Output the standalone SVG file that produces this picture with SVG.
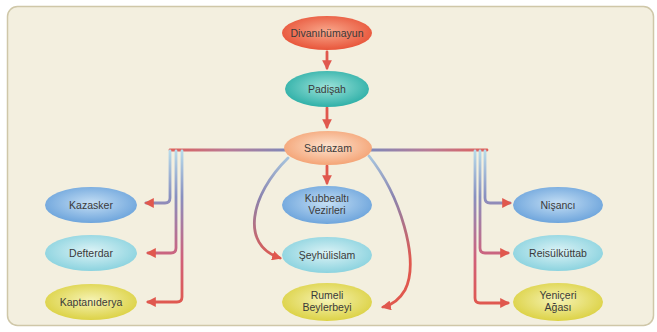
<svg xmlns="http://www.w3.org/2000/svg" width="657" height="332" viewBox="0 0 657 332">
<defs>
<radialGradient id="gRed" cx="50%" cy="45%" r="55%"><stop offset="0" stop-color="#f9a88c"/><stop offset="1" stop-color="#e8553a"/></radialGradient>
<radialGradient id="gTeal" cx="50%" cy="45%" r="55%"><stop offset="0" stop-color="#9de3da"/><stop offset="1" stop-color="#2fb0a8"/></radialGradient>
<radialGradient id="gPeach" cx="50%" cy="45%" r="55%"><stop offset="0" stop-color="#fde3cf"/><stop offset="1" stop-color="#f4a476"/></radialGradient>
<radialGradient id="gBlue" cx="50%" cy="45%" r="55%"><stop offset="0" stop-color="#c4def4"/><stop offset="1" stop-color="#6ea5dc"/></radialGradient>
<radialGradient id="gCyan" cx="50%" cy="45%" r="55%"><stop offset="0" stop-color="#dcf3f6"/><stop offset="1" stop-color="#8cd3df"/></radialGradient>
<radialGradient id="gYellow" cx="50%" cy="45%" r="55%"><stop offset="0" stop-color="#f6f3b4"/><stop offset="1" stop-color="#dcd246"/></radialGradient>
<linearGradient id="hL" gradientUnits="userSpaceOnUse" x1="170" y1="0" x2="285" y2="0"><stop offset="0" stop-color="#e0605a"/><stop offset="0.5" stop-color="#b87a96"/><stop offset="1" stop-color="#8088b8"/></linearGradient>
<linearGradient id="hR" gradientUnits="userSpaceOnUse" x1="371" y1="0" x2="487" y2="0"><stop offset="0" stop-color="#8088b8"/><stop offset="0.5" stop-color="#b87a96"/><stop offset="1" stop-color="#e0605a"/></linearGradient>
<linearGradient id="vG" gradientUnits="userSpaceOnUse" x1="0" y1="150" x2="0" y2="305"><stop offset="0" stop-color="#b8dceb"/><stop offset="0.3" stop-color="#8890c0"/><stop offset="0.7" stop-color="#d0607a"/><stop offset="1" stop-color="#e0584e"/></linearGradient>
<linearGradient id="cL" gradientUnits="userSpaceOnUse" x1="0" y1="155" x2="0" y2="260"><stop offset="0" stop-color="#a8c8e0"/><stop offset="0.4" stop-color="#8a84b0"/><stop offset="1" stop-color="#e0584e"/></linearGradient>
<marker id="ah" viewBox="0 0 10 10" refX="8" refY="5" markerWidth="3.5" markerHeight="3.5" orient="auto"><path d="M0,0 L10,5 L0,10 z" fill="#e0584e"/></marker>
<style>
.t{font-family:"Liberation Sans",Arial,sans-serif;font-size:10.5px;fill:#3a3a3a;text-anchor:middle;}
.n{stroke:none;}
.c{fill:none;stroke-width:2.8;stroke-linecap:round;stroke-linejoin:round;}
.a{stroke:#e0584e;marker-end:url(#ah);}
</style>
</defs>
<rect x="7.5" y="6.5" width="646" height="319" rx="10" fill="#f3efdf" stroke="#cfc7a8" stroke-width="1.5"/>
<g id="connectors">
<line class="c a" x1="327" y1="52" x2="327" y2="68"/>
<line class="c a" x1="327" y1="108" x2="327" y2="127"/>
<line class="c a" x1="327" y1="166" x2="327" y2="183"/>
<line class="c" x1="170" y1="150" x2="285" y2="150" stroke="url(#hL)"/>
<line class="c" x1="371" y1="150" x2="487" y2="150" stroke="url(#hR)"/>
<path class="c" d="M170,151 V198 Q170,203 165,203 H146" stroke="url(#vG)" marker-end="url(#ah)"/>
<path class="c" d="M176,151 V248 Q176,253 171,253 H148" stroke="url(#vG)" marker-end="url(#ah)"/>
<path class="c" d="M182,151 V297 Q182,302 177,302 H148" stroke="url(#vG)" marker-end="url(#ah)"/>
<path class="c" d="M485,151 V198 Q485,203 490,203 H510" stroke="url(#vG)" marker-end="url(#ah)"/>
<path class="c" d="M480,151 V248 Q480,253 485,253 H508" stroke="url(#vG)" marker-end="url(#ah)"/>
<path class="c" d="M475,151 V298 Q475,303 480,303 H508" stroke="url(#vG)" marker-end="url(#ah)"/>
<path class="c" d="M288,158 C250,195 240,245 280,258" stroke="url(#cL)" marker-end="url(#ah)"/>
<path class="c" d="M369,156 C400,195 420,260 405,290 Q397,304 383,307" stroke="url(#cL)" marker-end="url(#ah)"/>
</g>
<g id="divanihumayun"><ellipse class="n" cx="327" cy="33" rx="45" ry="17" fill="url(#gRed)"/><text class="t" x="327" y="37" fill="#5a2a20">Divanıhümayun</text></g>
<g id="padisah"><ellipse class="n" cx="327" cy="89" rx="42" ry="18" fill="url(#gTeal)"/><text class="t" x="327" y="93">Padişah</text></g>
<g id="sadrazam"><ellipse class="n" cx="328" cy="148" rx="44" ry="17" fill="url(#gPeach)"/><text class="t" x="328" y="152">Sadrazam</text></g>
<g id="kazasker"><ellipse class="n" cx="91" cy="205" rx="46" ry="18" fill="url(#gBlue)"/><text class="t" x="91" y="209">Kazasker</text></g>
<g id="defterdar"><ellipse class="n" cx="91" cy="253" rx="46" ry="18" fill="url(#gCyan)"/><text class="t" x="91" y="257">Defterdar</text></g>
<g id="kaptaniderya"><ellipse class="n" cx="91" cy="302" rx="46" ry="18" fill="url(#gYellow)"/><text class="t" x="91" y="306">Kaptanıderya</text></g>
<g id="kubbealti"><ellipse class="n" cx="327" cy="205" rx="45" ry="19" fill="url(#gBlue)"/><text class="t" x="327" y="202">Kubbealtı</text><text class="t" x="327" y="214">Vezirleri</text></g>
<g id="seyhulislam"><ellipse class="n" cx="327" cy="255" rx="45" ry="18" fill="url(#gCyan)"/><text class="t" x="327" y="259">Şeyhülislam</text></g>
<g id="rumeli"><ellipse class="n" cx="327" cy="302" rx="45" ry="19" fill="url(#gYellow)"/><text class="t" x="327" y="299">Rumeli</text><text class="t" x="327" y="311">Beylerbeyi</text></g>
<g id="nisanci"><ellipse class="n" cx="558" cy="205" rx="45" ry="18" fill="url(#gBlue)"/><text class="t" x="558" y="209">Nişancı</text></g>
<g id="reisulkuttab"><ellipse class="n" cx="558" cy="253" rx="45" ry="18" fill="url(#gCyan)"/><text class="t" x="558" y="257">Reisülküttab</text></g>
<g id="yeniceri"><ellipse class="n" cx="558" cy="302" rx="45" ry="19" fill="url(#gYellow)"/><text class="t" x="558" y="299">Yeniçeri</text><text class="t" x="558" y="311">Ağası</text></g>
</svg>
